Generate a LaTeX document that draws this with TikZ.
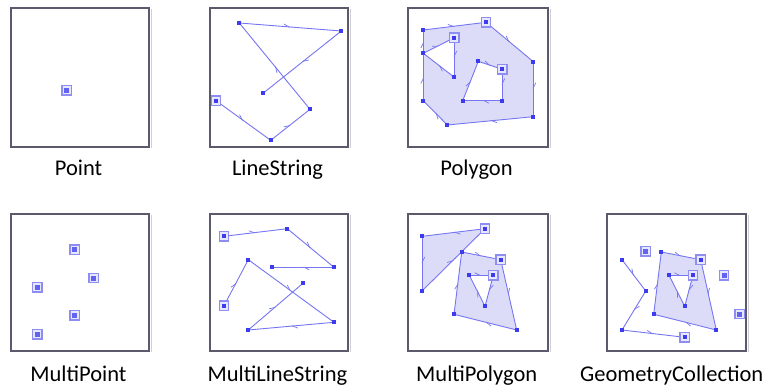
\documentclass[tikz,border=0pt]{standalone}
\usepackage{fontspec}
\setmainfont{Carlito}
\usetikzlibrary{arrows.meta,decorations.markings}
\definecolor{gline}{HTML}{7676F2}
\definecolor{gvtx}{HTML}{3C3CEE}
\definecolor{gfill}{HTML}{DCDCF9}
\definecolor{gstart}{HTML}{8E8EF2}
\definecolor{framec}{HTML}{5A5A6C}
\definecolor{shadowc}{HTML}{CFCFD4}
\tikzset{
  panel/.style={draw=framec, line width=1.6pt},
  shadowline/.style={draw=shadowc, line width=1.4pt},
  edge/.style={draw=gline, line width=0.9pt, postaction={decorate},
    decoration={markings, mark=at position 0.5 with {\arrow[gline,line width=0.7pt]{Straight Barb[harpoon,length=5pt,width=5pt]}}}},
  vtx/.style={rectangle, fill=gvtx, minimum size=4pt, inner sep=0pt, outer sep=0pt},
  startmk/.style={rectangle, draw=gstart, fill=gstart!22, line width=1.2pt, minimum size=9.5pt, inner sep=0pt},
  ptin/.style={rectangle, fill=gvtx!80, minimum size=5pt, inner sep=0pt},
  area/.style={fill=gfill, even odd rule},
  lbl/.style={anchor=base, font=\fontsize{22.5}{27}\selectfont, text=black, inner sep=0pt},
}
\newcommand\seg[2]{\draw[edge] (#1) -- (#2);}
\newcommand\putvtx[1]{\node[vtx] (v#1) at (#1) {};}
\newcommand\putstart[1]{\node[startmk] (s#1) at (#1) {};\node[vtx] (v#1) at (#1) {};}
\newcommand\putpoint[1]{\node[startmk] (s#1) at (#1) {};\node[ptin] (v#1) at (#1) {};}
\begin{document}
\begin{tikzpicture}[x=1pt,y=-1pt]
\useasboundingbox (0,0) rectangle (765,387);
\fill[white] (0,0) rectangle (765,387);

% ---------- panels ----------
\foreach \x/\y/\X/\Y in {11/8/149/147, 210/8/348/147, 408/8/548/147,
                         11/214/149/351, 210/214/348/351, 408/214/548/351, 607/214/746/351}{
  \draw[shadowline] (\X+2.2,\y+1) -- (\X+2.2,\Y+1);
  \draw[panel] (\x,\y) rectangle (\X,\Y);
}

% ---------- Point ----------
\coordinate (pA) at (66.7,90.3);
\putpoint{pA}

% ---------- LineString ----------
\coordinate (la) at (216,100.7);
\coordinate (lb) at (270.7,140.3);
\coordinate (lc) at (310,109.3);
\coordinate (ld) at (239.3,23);
\coordinate (le) at (341.3,31);
\coordinate (lf) at (263,93.3);
\seg{la}{lb}\seg{lb}{lc}\seg{lc}{ld}\seg{ld}{le}\seg{le}{lf}
\foreach \n in {lb,lc,ld,le,lf}{\putvtx{\n}}
\putstart{la}

% ---------- Polygon ----------
\coordinate (o1) at (423.3,30);
\coordinate (o2) at (486,22.3);
\coordinate (o3) at (533.3,61.7);
\coordinate (o4) at (533.3,116.7);
\coordinate (o5) at (447.3,125);
\coordinate (o6) at (423.3,100.7);
\coordinate (o7) at (423.3,53.3);
\coordinate (h1) at (454.3,37.7);
\coordinate (h2) at (454.3,77.3);
\coordinate (k1) at (502.3,69.3);
\coordinate (k2) at (502.3,100.7);
\coordinate (k3) at (462.7,100.7);
\coordinate (k4) at (478.3,61.3);
\fill[area] (o1)--(o2)--(o3)--(o4)--(o5)--(o6)--(o7)--cycle
            (h1)--(h2)--(o7)--cycle
            (k1)--(k2)--(k3)--(k4)--cycle;
\seg{o2}{o3}\seg{o3}{o4}\seg{o4}{o5}\seg{o5}{o6}\seg{o6}{o7}\seg{o7}{o1}\seg{o1}{o2}
\seg{h1}{h2}\seg{h2}{o7}\seg{o7}{h1}
\seg{k1}{k2}\seg{k2}{k3}\seg{k3}{k4}\seg{k4}{k1}
\foreach \n in {o1,o3,o4,o5,o6,o7,h2,k2,k3,k4}{\putvtx{\n}}
\putstart{o2}\putstart{h1}\putstart{k1}

% ---------- MultiPoint ----------
\coordinate (mp1) at (74.7,249.7);
\coordinate (mp2) at (93.7,278);
\coordinate (mp3) at (37.3,287.3);
\coordinate (mp4) at (74.7,315.3);
\coordinate (mp5) at (37.3,334.3);
\foreach \n in {mp1,mp2,mp3,mp4,mp5}{\putpoint{\n}}

% ---------- MultiLineString ----------
\coordinate (m1) at (224,236.3);
\coordinate (m2) at (287.3,228.7);
\coordinate (m3) at (334,267.3);
\coordinate (m4) at (271.7,267.3);
\coordinate (n1) at (224,305.7);
\coordinate (n2) at (248.3,259.7);
\coordinate (n3) at (334,322.3);
\coordinate (n4) at (248.3,330);
\coordinate (n5) at (303.3,283);
\seg{m1}{m2}\seg{m2}{m3}\seg{m3}{m4}
\seg{n1}{n2}\seg{n2}{n3}\seg{n3}{n4}\seg{n4}{n5}
\foreach \n in {m2,m3,m4,n2,n3,n4,n5}{\putvtx{\n}}
\putstart{m1}\putstart{n1}

% ---------- MultiPolygon ----------
\coordinate (a1) at (485,228.7);
\coordinate (a2) at (422.3,236.3);
\coordinate (a3) at (422.3,290.7);
\coordinate (b1) at (500.7,259.7);
\coordinate (b2) at (516.7,330);
\coordinate (b3) at (454,314.3);
\coordinate (b4) at (461.7,252);
\coordinate (c1) at (493.3,275.3);
\coordinate (c2) at (485,306.3);
\coordinate (c3) at (469.3,275.3);
\fill[area] (a1)--(a2)--(a3)--cycle;
\fill[area] (b1)--(b2)--(b3)--(b4)--cycle (c1)--(c2)--(c3)--cycle;
\seg{a1}{a2}\seg{a2}{a3}\seg{a3}{a1}
\seg{b1}{b2}\seg{b2}{b3}\seg{b3}{b4}\seg{b4}{b1}
\seg{c1}{c2}\seg{c2}{c3}\seg{c3}{c1}
\foreach \n in {a2,a3,b2,b3,b4,c2,c3}{\putvtx{\n}}
\putstart{a1}\putstart{b1}\putstart{c1}

% ---------- GeometryCollection ----------
\coordinate (g1) at (700.7,259.7);
\coordinate (g2) at (716.3,330);
\coordinate (g3) at (653.7,314.3);
\coordinate (g4) at (661.3,252);
\coordinate (j1) at (693,275.3);
\coordinate (j2) at (684.7,306.3);
\coordinate (j3) at (669,275.3);
\coordinate (s1) at (622,259.7);
\coordinate (s2) at (645.7,291);
\coordinate (s3) at (622,330);
\coordinate (s4) at (684.7,337.3);
\coordinate (q1) at (645.7,251.3);
\coordinate (q2) at (724,275.3);
\coordinate (q3) at (739.7,314);
\fill[area] (g1)--(g2)--(g3)--(g4)--cycle (j1)--(j2)--(j3)--cycle;
\seg{g1}{g2}\seg{g2}{g3}\seg{g3}{g4}\seg{g4}{g1}
\seg{j1}{j2}\seg{j2}{j3}\seg{j3}{j1}
\seg{s1}{s2}\seg{s2}{s3}\seg{s3}{s4}
\foreach \n in {g2,g3,g4,j2,j3,s1,s2,s3}{\putvtx{\n}}
\putstart{g1}\putstart{j1}\putstart{s4}
\foreach \n in {q1,q2,q3}{\putpoint{\n}}

% ---------- labels ----------
\node[lbl] (t1) at (78.5,175.3) {Point};
\node[lbl] (t2) at (277.5,175.3) {LineString};
\node[lbl] (t3) at (476.5,175.3) {Polygon};
\node[lbl] (t4) at (78.5,381) {MultiPoint};
\node[lbl] (t5) at (277.5,381) {MultiLineString};
\node[lbl] (t6) at (476.7,381) {MultiPolygon};
\node[lbl] (t7) at (671.7,381) {GeometryCollection};
\end{tikzpicture}
\end{document}
